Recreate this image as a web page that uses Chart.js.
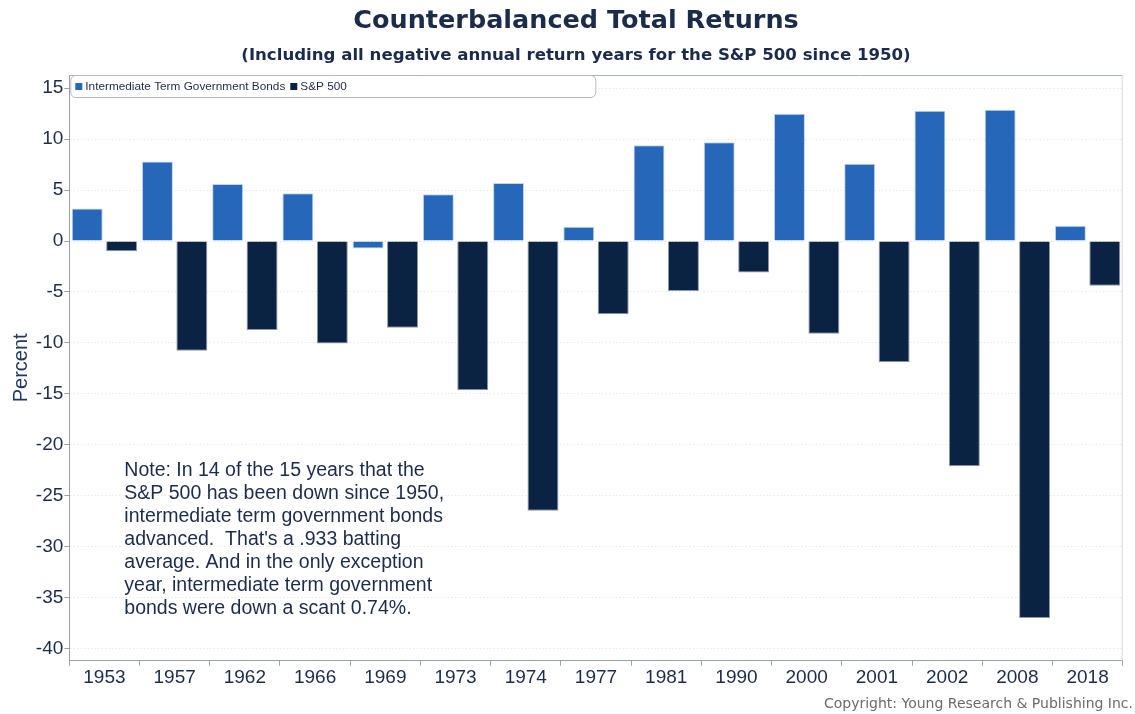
<!DOCTYPE html>
<html>
<head>
<meta charset="utf-8">
<script src="https://cdn.jsdelivr.net/npm/chart.js@4.4.1/dist/chart.umd.min.js"></script>
<style>
  html, body { margin: 0; padding: 0; background: #fff; }
  #wrap { width: 1135px; height: 714px; }
</style>
</head>
<body>
<div id="wrap"><canvas id="myChart"></canvas></div>
<script>
var years = ['1953', '1957', '1962', '1966', '1969', '1973', '1974', '1977', '1981', '1990', '2000', '2001', '2002', '2008', '2018'];
var bonds = [3.2, 7.8, 5.6, 4.7, -0.74, 4.6, 5.7, 1.4, 9.4, 9.7, 12.5, 7.6, 12.8, 12.9, 1.5];
var sp500 = [-0.99, -10.78, -8.73, -10.06, -8.5, -14.66, -26.47, -7.18, -4.91, -3.1, -9.1, -11.89, -22.1, -37.0, -4.38];
var yTicks = [-40, -35, -30, -25, -20, -15, -10, -5, 0, 5, 10, 15];

var noteLines = [
  'Note: In 14 of the 15 years that the',
  'S&P 500 has been down since 1950,',
  'intermediate term government bonds',
  "advanced.  That's a .933 batting",
  'average. And in the only exception',
  'year, intermediate term government',
  'bonds were down a scant 0.74%.'
];

var navy = '#1b2c4b';
var axisGray = '#97a1b3';
var arial = '"Liberation Sans", Arial, sans-serif';

// frame, legend box, note and copyright
var extras = {
  id: 'extras',
  beforeDatasetsDraw: function(chart) {
    var c = chart.ctx, a = chart.chartArea;
    c.save();
    c.lineWidth = 1;
    c.strokeStyle = '#a9b1c4';
    c.beginPath();
    c.moveTo(a.left, a.top + 0.5);
    c.lineTo(a.right, a.top + 0.5);
    c.stroke();
    c.strokeStyle = '#d6dbe3';
    c.beginPath();
    c.moveTo(a.right - 0.5, a.top);
    c.lineTo(a.right - 0.5, a.bottom);
    c.stroke();

    // legend inside the plot, top left
    c.fillStyle = '#fff';
    c.strokeStyle = '#b3b8c2';
    c.beginPath();
    c.roundRect(a.left + 1.5, a.top + 0.5, 525, 22, 5);
    c.fill();
    c.stroke();
    c.font = '11.8px ' + arial;
    c.textAlign = 'left';
    c.textBaseline = 'middle';
    var x = a.left + 6, y = a.top + 11.5;
    chart.data.datasets.forEach(function(ds) {
      c.fillStyle = ds.backgroundColor;
      c.fillRect(x, y - 3.5, 7, 7);
      c.fillStyle = navy;
      c.fillText(ds.label, x + 10, y);
      x += 10 + c.measureText(ds.label).width + 5;
    });
    c.restore();
  },
  afterDraw: function(chart) {
    var c = chart.ctx, a = chart.chartArea;
    c.save();
    c.fillStyle = navy;
    c.font = '19.5px ' + arial;
    c.textAlign = 'left';
    c.textBaseline = 'middle';
    noteLines.forEach(function(t, i) {
      c.fillText(t, a.left + 55, 471 + i * 23);
    });
    c.fillStyle = '#6b6b6b';
    c.font = '14px "DejaVu Sans", sans-serif';
    c.textAlign = 'right';
    c.fillText('Copyright: Young Research & Publishing Inc.', 1133, 704);
    c.restore();
  }
};

var ctx = document.getElementById('myChart').getContext('2d');
var myChart = new Chart(ctx, {
  type: 'bar',
  data: {
    labels: years,
    datasets: [{
      label: 'Intermediate Term Government Bonds',
      data: bonds,
      backgroundColor: '#2767b9',
      borderColor: '#c3d4ee',
      borderWidth: 1
    }, {
      label: 'S&P 500',
      data: sp500,
      backgroundColor: '#0b2343',
      borderColor: '#8e99ad',
      borderWidth: 1
    }]
  },
  options: {
    responsive: true,
    maintainAspectRatio: false,
    animation: false,
    layout: { padding: { left: 29.3, right: 12.3, top: 0, bottom: 0 } },
    categoryPercentage: 0.98,
    barPercentage: 0.9,
    scales: {
      x: {
        grid: { offset: true, drawOnChartArea: false, tickLength: 5, tickColor: axisGray },
        border: { color: axisGray },
        ticks: { color: navy, padding: 1, font: { family: arial, size: 19 } },
        afterFit: function(scale) { scale.height = 53.3; }
      },
      y: {
        min: -41.2,
        max: 16.3,
        afterBuildTicks: function(scale) {
          scale.ticks = yTicks.map(function(v) { return { value: v }; });
        },
        afterFit: function(scale) { scale.width = 40; },
        grid: { color: '#e8e8e8', tickColor: axisGray, tickLength: 5, tickBorderDash: [] },
        border: { color: axisGray, dash: [1.5, 2] },
        ticks: { color: navy, padding: 1, font: { family: arial, size: 19 } },
        title: {
          display: true,
          text: 'Percent',
          color: '#1f3763',
          padding: { top: -20.3, bottom: 0 },
          font: { family: arial, size: 20 }
        }
      }
    },
    plugins: {
      legend: { display: false },
      tooltip: { enabled: false },
      title: {
        display: true,
        text: 'Counterbalanced Total Returns',
        color: navy,
        padding: { top: 5.7, bottom: 9.7 },
        font: { family: '"DejaVu Sans", Verdana, sans-serif', size: 25.5, weight: 'bold' }
      },
      subtitle: {
        display: true,
        text: '(Including all negative annual return years for the S&P 500 since 1950)',
        color: navy,
        padding: { top: 0, bottom: 9.1 },
        font: { family: '"DejaVu Sans", Verdana, sans-serif', size: 16.6, weight: 'bold' }
      }
    }
  },
  plugins: [extras]
});
</script>
</body>
</html>
